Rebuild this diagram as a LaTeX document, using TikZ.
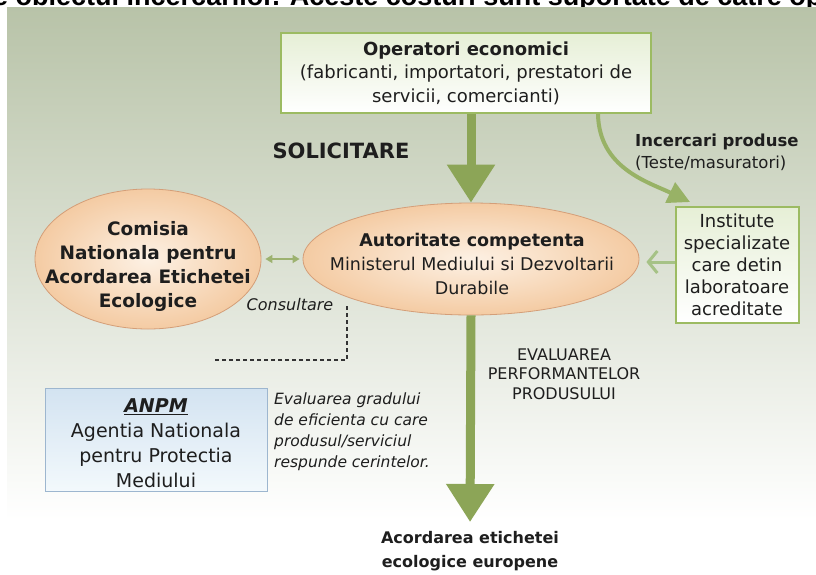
\documentclass[tikz,border=0pt]{standalone}
\usepackage{fontspec}
\setmainfont{DejaVu Sans}
\newfontfamily\libsans{Liberation Sans}
\usetikzlibrary{arrows.meta,shapes.geometric}
\definecolor{bgtop}{HTML}{B8C3A8}
\definecolor{bgmid}{HTML}{DDE1D6}
\definecolor{arrgreen}{HTML}{8CA557}
\definecolor{curvegreen}{HTML}{98B266}
\definecolor{lightgreen}{HTML}{A6C286}
\definecolor{boxborder}{HTML}{9CBB62}
\definecolor{boxtop}{HTML}{E6EFD6}
\definecolor{peachout}{HTML}{F4CBA3}
\definecolor{peachin}{HTML}{FDF1E4}
\definecolor{peachline}{HTML}{D49E78}
\definecolor{bluetop}{HTML}{D3E3F1}
\definecolor{bluebot}{HTML}{F3F9FC}
\definecolor{blueline}{HTML}{9DB6CF}
\definecolor{txt}{HTML}{1E1E1E}
\begin{document}
\begin{tikzpicture}[x=1pt,y=-1pt,
  greenbox/.style={draw=boxborder, line width=2pt, top color=boxtop, bottom color=white, inner sep=0pt},
  peach/.style={ellipse, draw=peachline, line width=0.8pt, inner color=peachin, outer color=peachout, inner sep=0pt},
  lbl/.style={align=center, text=txt, inner sep=0pt},
  bigarrow/.style={arrgreen, line width=9pt, -{Triangle[length=38pt,width=46pt]}},
  dasher/.style={draw=black!80, line width=1.6pt, dash pattern=on 4pt off 3pt}
]
\useasboundingbox (0,0) rectangle (816,574);
\fill[white] (0,0) rectangle (816,574);
% clipped text line at the top (cut off in the reference too)
\begin{scope}
\clip (0,0) rectangle (816,7);
\node[anchor=base west, inner sep=0pt, font=\libsans\bfseries\fontsize{27}{30}\selectfont] (topline) at (-7,5.5) {e obiectul incercarilor. Aceste costuri sunt suportate de catre op};
\end{scope}
% background
\shade[top color=bgtop, middle color=bgmid, bottom color=white] (7,7) rectangle (816,520);

% nodes
\node[greenbox, minimum width=370pt, minimum height=80pt] (top) at (466,73) {};
\node[lbl, font=\fontsize{18}{23.5}\selectfont] (toptext) at (466,73) {\textbf{Operatori economici}\\(fabricanti, importatori, prestatori de\\servicii, comercianti)};

\node[peach, minimum width=336pt, minimum height=112pt] (auth) at (471,259) {};
\node[lbl, font=\fontsize{17.5}{24}\selectfont] (authtext) at (472,264) {\textbf{Autoritate competenta}\\Ministerul Mediului si Dezvoltarii\\Durabile};

\node[peach, minimum width=226pt, minimum height=140pt] (com) at (148,259) {};
\node[lbl, font=\bfseries\fontsize{18.5}{24}\selectfont] (comtext) at (148,266) {Comisia\\Nationala pentru\\Acordarea Etichetei\\Ecologice};

\node[greenbox, minimum width=123pt, minimum height=116pt] (inst) at (737,265) {};
\node[lbl, font=\fontsize{18}{22}\selectfont] (insttext) at (737,265) {Institute\\specializate\\care detin\\laboratoare\\acreditate};

\node[draw=blueline, line width=0.8pt, top color=bluetop, bottom color=bluebot, minimum width=222pt, minimum height=103pt, inner sep=0pt] (anpm) at (156,440) {};
\node[lbl, font=\fontsize{19}{25}\selectfont] (anpmtext) at (156,443) {\underline{\textbf{\textit{ANPM}}}\\Agentia Nationala\\pentru Protectia\\Mediului};

\node[lbl, font=\bfseries\fontsize{21}{24}\selectfont] (solic) at (341,151) {SOLICITARE};
\node[lbl, align=left, anchor=north west, font=\fontsize{16.5}{22}\selectfont] (incerc) at (635,134) {\textbf{Incercari produse}\\(Teste/masuratori)};
\node[lbl, font=\itshape\fontsize{16}{20}\selectfont] (consult) at (290,305) {Consultare};
\node[lbl, font=\fontsize{16}{19.5}\selectfont] (evalp) at (564,374) {EVALUAREA\\PERFORMANTELOR\\PRODUSULUI};
\node[lbl, align=left, anchor=north west, font=\itshape\fontsize{15.5}{21}\selectfont] (evalg) at (274,393) {Evaluarea gradului\\de eficienta cu care\\produsul/serviciul\\respunde cerintelor.};
\node[lbl, anchor=north, font=\bfseries\fontsize{16}{24}\selectfont] (final) at (470,531) {Acordarea etichetei\\ecologice europene};

% connectors
\draw[bigarrow] (top.south -| auth.north) -- (auth.north);
\draw[bigarrow, shorten >=9pt] (auth.south) -- (final.north);
\draw[curvegreen, line width=4pt, -{Triangle[length=22pt,width=22pt]}]
  ([xshift=132pt]top.south) .. controls (599,168) and (648,182) .. ([xshift=-47pt,yshift=4pt]inst.north);
\draw[lightgreen, line width=3pt, -{Straight Barb[length=9pt,width=22pt]}, shorten >=7pt]
  ([yshift=3pt]inst.west) -- ([yshift=3pt]inst.west -| auth.east);
\draw[arrgreen!85, line width=1.6pt, {Triangle[length=7pt,width=8pt]}-{Triangle[length=7pt,width=8pt]}]
  ([xshift=4pt]com.east) -- ([xshift=-3pt]auth.west);
\coordinate (d1) at (347,306);
\coordinate (d2) at (347,360);
\coordinate (d3) at (213,360);
\draw[dasher] (d1) -- (d2) -- (d3);
\end{tikzpicture}
\end{document}
